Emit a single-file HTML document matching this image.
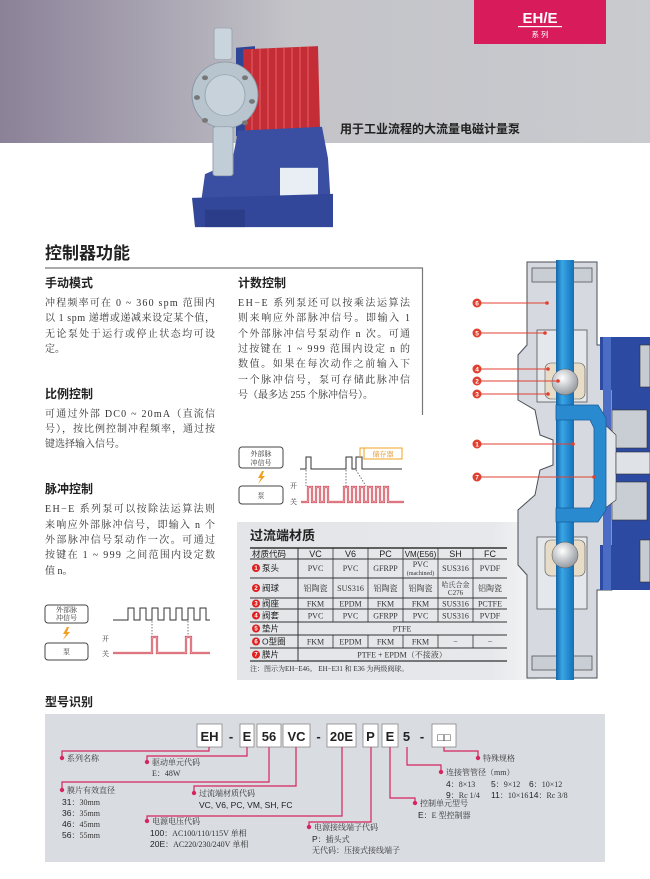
<!DOCTYPE html>
<html><head><meta charset="utf-8"><style>
html,body{margin:0;padding:0;background:#fff;}
svg{display:block;}
.h{font-family:"Liberation Sans","Noto Sans CJK SC",sans-serif;font-weight:bold;fill:#222;}
.b{font-family:"Liberation Serif","Noto Serif CJK SC",serif;fill:#333;font-size:10px;}
.t{font-family:"Liberation Serif","Noto Serif CJK SC",serif;fill:#333;font-size:8px;}
.ts{font-family:"Liberation Sans","Noto Sans CJK SC",sans-serif;fill:#222;font-size:8.5px;}
.m{font-family:"Liberation Serif","Noto Serif CJK SC",serif;fill:#333;font-size:8px;}
.mb{font-family:"Liberation Sans","Noto Sans CJK SC",sans-serif;fill:#222;font-size:8.5px;}
</style></head><body>
<svg width="650" height="879" viewBox="0 0 650 879" xmlns="http://www.w3.org/2000/svg">
<defs>
<linearGradient id="hdr" x1="0" x2="1" y1="0" y2="0">
<stop offset="0" stop-color="#8b8198"/><stop offset="0.45" stop-color="#c3c3c8"/><stop offset="1" stop-color="#c9cbcf"/>
</linearGradient>
<linearGradient id="pan" x1="0" x2="1"><stop offset="0" stop-color="#e3e5e9"/><stop offset="0.85" stop-color="#e6e8eb"/><stop offset="1" stop-color="#f4f5f6"/></linearGradient>
<linearGradient id="blu" x1="0" x2="1"><stop offset="0" stop-color="#1565a8"/><stop offset="0.35" stop-color="#39a6e6"/><stop offset="1" stop-color="#1470b8"/></linearGradient>
<radialGradient id="ball" cx="0.4" cy="0.35" r="0.7"><stop offset="0" stop-color="#ffffff"/><stop offset="1" stop-color="#8e949b"/></radialGradient>
</defs>

<!-- header -->
<rect x="0" y="0" width="650" height="143" fill="url(#hdr)"/>
<rect x="474" y="0" width="132" height="44" fill="#d81b5a"/>
<text x="540" y="23" text-anchor="middle" class="h" style="fill:#fff;font-size:15px">EH/E</text>
<rect x="518" y="26" width="44" height="1.2" fill="#fff"/>
<text x="540" y="37" text-anchor="middle" style="fill:#fff;font-size:7.5px;font-family:'Liberation Sans','Noto Sans CJK SC',sans-serif">系 列</text>
<text x="340" y="133" class="h" style="font-size:12px">用于工业流程的大流量电磁计量泵</text>

<!-- product pump -->
<g transform="translate(0,0.35) scale(1,0.79)">
<polygon points="236,60 255,58 255,170 236,172" fill="#2f4596"/>
<polygon points="243,62 318,58 320,162 245,166" fill="#c42c36"/>
<g stroke="#e86068" stroke-width="1">
<line x1="252" y1="62" x2="252" y2="164"/><line x1="260" y1="61" x2="260" y2="164"/><line x1="268" y1="61" x2="268" y2="164"/><line x1="276" y1="60" x2="276" y2="164"/><line x1="284" y1="60" x2="284" y2="163"/><line x1="292" y1="60" x2="292" y2="163"/><line x1="300" y1="59" x2="300" y2="163"/><line x1="308" y1="59" x2="308" y2="162"/></g>
<polygon points="238,165 322,160 328,200 331,262 200,265 205,220 232,205" fill="#3b4fa2"/>
<rect x="280" y="212" width="38" height="45" fill="#e9edf4"/>
<polygon points="192,250 333,245 333,287 195,287" fill="#33479a"/>
<rect x="205" y="265" width="40" height="22" fill="#2b3d88"/>
<rect x="214" y="35" width="18" height="40" rx="3" fill="#c9d4dc" stroke="#9aa6b0"/>
<ellipse cx="225" cy="120" rx="33" ry="42" fill="#b8c5cf" stroke="#8797a5"/>
<ellipse cx="225" cy="120" rx="20" ry="26" fill="#c7d2da" stroke="#9aa8b4"/>
<g fill="#777"><circle cx="205" cy="98" r="3"/><circle cx="245" cy="98" r="3"/><circle cx="197" cy="123" r="3"/><circle cx="252" cy="128" r="3"/><circle cx="205" cy="152" r="3"/><circle cx="245" cy="155" r="3"/></g>
<rect x="213" y="160" width="20" height="62" rx="3" fill="#c2ced7" stroke="#95a2ad"/>
</g>

<!-- section title -->
<text x="45" y="259" class="h" style="font-size:17px">控制器功能</text>
<line x1="45" y1="268" x2="423" y2="268" stroke="#777" stroke-width="1.2"/>
<line x1="422.5" y1="268" x2="422.5" y2="415" stroke="#777" stroke-width="1.2"/>

<text x="45" y="287" class="h" style="font-size:12px">手动模式</text>
<text x="45" y="306" class="b" textLength="170" lengthAdjust="spacing">冲程频率可在 0 ~ 360 spm 范围内</text>
<text x="45" y="321" class="b" textLength="170" lengthAdjust="spacing">以 1 spm 递增或递减来设定某个值，</text>
<text x="45" y="337" class="b" textLength="170" lengthAdjust="spacing">无论泵处于运行或停止状态均可设</text>
<text x="45" y="352" class="b">定。</text>

<text x="45" y="398" class="h" style="font-size:12px">比例控制</text>
<text x="45" y="417" class="b" textLength="170" lengthAdjust="spacing">可通过外部 DC0 ~ 20mA（直流信</text>
<text x="45" y="432" class="b" textLength="170" lengthAdjust="spacing">号），按比例控制冲程频率，通过按</text>
<text x="45" y="447" class="b">键选择输入信号。</text>

<text x="45" y="493" class="h" style="font-size:12px">脉冲控制</text>
<text x="45" y="512" class="b" textLength="170" lengthAdjust="spacing">EH−E 系列泵可以按除法运算法则</text>
<text x="45" y="528" class="b" textLength="170" lengthAdjust="spacing">来响应外部脉冲信号，即输入 n 个</text>
<text x="45" y="543" class="b" textLength="170" lengthAdjust="spacing">外部脉冲信号泵动作一次。可通过</text>
<text x="45" y="558" class="b" textLength="170" lengthAdjust="spacing">按键在 1 ~ 999 之间范围内设定数</text>
<text x="45" y="574" class="b">值 n。</text>

<text x="238" y="287" class="h" style="font-size:12px">计数控制</text>
<text x="238" y="306" class="b" textLength="172" lengthAdjust="spacing">EH−E 系列泵还可以按乘法运算法</text>
<text x="238" y="321" class="b" textLength="172" lengthAdjust="spacing">则来响应外部脉冲信号。即输入 1</text>
<text x="238" y="337" class="b" textLength="172" lengthAdjust="spacing">个外部脉冲信号泵动作 n 次。可通</text>
<text x="238" y="352" class="b" textLength="172" lengthAdjust="spacing">过按键在 1 ~ 999 范围内设定 n 的</text>
<text x="238" y="367" class="b" textLength="172" lengthAdjust="spacing">数值。如果在每次动作之前输入下</text>
<text x="238" y="383" class="b" textLength="172" lengthAdjust="spacing">一个脉冲信号，泵可存储此脉冲信</text>
<text x="238" y="398" class="b">号（最多达 255 个脉冲信号）。</text>

<!-- counting diagram -->
<rect x="239" y="447" width="44" height="21" rx="3" fill="#fff" stroke="#444"/>
<text x="261" y="456" text-anchor="middle" class="t" style="font-size:7px">外部脉</text>
<text x="261" y="465" text-anchor="middle" class="t" style="font-size:7px">冲信号</text>
<polygon points="262,471 258,478 261,478 258,484 265,476 262,476 264,471" fill="#f0a020"/>
<rect x="239" y="486" width="44" height="18" rx="3" fill="#fff" stroke="#444"/>
<text x="261" y="498" text-anchor="middle" class="t" style="font-size:7px">泵</text>
<polyline points="300,469 306,469 306,457 311,457 311,469 346,469 346,457 352,457 352,469 356,469 356,457 362,457 362,469 402,469" fill="none" stroke="#333" stroke-width="1"/>
<polyline points="360,457 360,448 364,448" fill="none" stroke="#f0a020" stroke-width="1"/>
<rect x="364" y="448" width="38" height="11" fill="#fff" stroke="#f0a020"/>
<text x="383" y="456.5" text-anchor="middle" class="t" style="fill:#e09020;font-size:7px">储存器</text>
<g stroke="#777" stroke-dasharray="1.5,1.5"><line x1="306" y1="470" x2="306" y2="486"/><line x1="346" y1="470" x2="346" y2="486"/><line x1="356" y1="470" x2="366" y2="486"/></g>
<text x="290" y="488" class="t" style="font-size:7px">开</text>
<text x="290" y="504" class="t" style="font-size:7px">关</text>
<polyline points="301,502 308,502 308,487 312,487 312,502 316,502 316,487 320,487 320,502 324,502 324,487 328,487 328,502 344,502 344,487 348,487 348,502 352,502 352,487 356,487 356,502 360,502 360,487 364,487 364,502 368,502 368,487 372,487 372,502 376,502 376,487 380,487 380,502 384,502 384,487 388,487 388,502 404,502" fill="none" stroke="#d04050" stroke-width="2.2"/>
<polyline points="301,502 308,502 308,487 312,487 312,502 316,502 316,487 320,487 320,502 324,502 324,487 328,487 328,502 344,502 344,487 348,487 348,502 352,502 352,487 356,487 356,502 360,502 360,487 364,487 364,502 368,502 368,487 372,487 372,502 376,502 376,487 380,487 380,502 384,502 384,487 388,487 388,502 404,502" fill="none" stroke="#f4d0d4" stroke-width="0.8"/>

<!-- pulse diagram -->
<rect x="45" y="605" width="43" height="18" rx="3" fill="#fff" stroke="#444"/>
<text x="66.5" y="612" text-anchor="middle" class="t" style="font-size:7px">外部脉</text>
<text x="66.5" y="620" text-anchor="middle" class="t" style="font-size:7px">冲信号</text>
<polygon points="67,627 63,634 66,634 63,640 70,632 67,632 69,627" fill="#f0a020"/>
<rect x="45" y="643" width="43" height="17" rx="3" fill="#fff" stroke="#444"/>
<text x="66.5" y="654" text-anchor="middle" class="t" style="font-size:7px">泵</text>
<polyline points="113,620 128,620 128,608 134,608 134,620 140,620 140,608 146,608 146,620 152,620 152,608 158,608 158,620 164,620 164,608 170,608 170,620 176,620 176,608 182,608 182,620 188,620 188,608 194,608 194,620 200,620 200,608 206,608 206,620 210,620" fill="none" stroke="#333" stroke-width="1"/>
<g stroke="#777" stroke-dasharray="1.5,1.5"><line x1="152" y1="621" x2="152" y2="637"/><line x1="188" y1="621" x2="188" y2="637"/></g>
<text x="102" y="641" class="t" style="font-size:7px">开</text>
<text x="102" y="656" class="t" style="font-size:7px">关</text>
<polyline points="113,653 152,653 152,637 157,637 157,653 186,653 186,637 191,637 191,653 210,653" fill="none" stroke="#d04050" stroke-width="2.2"/>
<polyline points="113,653 152,653 152,637 157,637 157,653 186,653 186,637 191,637 191,653 210,653" fill="none" stroke="#f4d0d4" stroke-width="0.8"/>

<!-- materials panel -->
<rect x="237" y="522" width="300" height="158" fill="url(#pan)"/>
<text x="250" y="540" class="h" style="font-size:13px">过流端材质</text>
<g stroke="#333">
<line x1="250" y1="548" x2="507" y2="548" stroke-width="1.4"/>
<line x1="250" y1="559" x2="507" y2="559"/>
<line x1="250" y1="578" x2="507" y2="578"/>
<line x1="250" y1="598" x2="507" y2="598"/>
<line x1="250" y1="609" x2="507" y2="609"/>
<line x1="250" y1="622" x2="507" y2="622"/>
<line x1="250" y1="635" x2="507" y2="635"/>
<line x1="250" y1="648" x2="507" y2="648"/>
<line x1="250" y1="661" x2="507" y2="661" stroke-width="1.2"/>
<line x1="298" y1="548" x2="298" y2="661"/>
<g stroke-width="0.8">
<line x1="333" y1="548" x2="333" y2="622"/><line x1="368" y1="548" x2="368" y2="622"/><line x1="403" y1="548" x2="403" y2="622"/><line x1="438" y1="548" x2="438" y2="622"/><line x1="473" y1="548" x2="473" y2="622"/>
<line x1="333" y1="635" x2="333" y2="648"/><line x1="368" y1="635" x2="368" y2="648"/><line x1="403" y1="635" x2="403" y2="648"/><line x1="438" y1="635" x2="438" y2="648"/><line x1="473" y1="635" x2="473" y2="648"/>
</g></g>
<text x="252" y="557" class="ts">材质代码</text>
<g class="ts" text-anchor="middle" style="font-size:9px">
<text x="315.5" y="557">VC</text><text x="350.5" y="557">V6</text><text x="385.5" y="557">PC</text><text x="420.5" y="557" style="font-size:8px">VM(E56)</text><text x="455.5" y="557">SH</text><text x="490" y="557">FC</text></g>
<g fill="#e02020">
<circle cx="256" cy="568" r="4"/><circle cx="256" cy="588" r="4"/><circle cx="256" cy="603.5" r="4"/><circle cx="256" cy="615.5" r="4"/><circle cx="256" cy="628.5" r="4"/><circle cx="256" cy="641.5" r="4"/><circle cx="256" cy="654.5" r="4"/></g>
<g fill="#fff" font-size="6" font-weight="bold" font-family="Liberation Sans" text-anchor="middle">
<text x="256" y="570">1</text><text x="256" y="590">2</text><text x="256" y="605.5">3</text><text x="256" y="617.5">4</text><text x="256" y="630.5">5</text><text x="256" y="643.5">6</text><text x="256" y="656.5">7</text></g>
<g class="ts"><text x="262" y="571">泵头</text><text x="262" y="591">阀球</text><text x="262" y="606.5">阀座</text><text x="262" y="618.5">阀套</text><text x="262" y="631.5">垫片</text><text x="262" y="644.5">O型圈</text><text x="262" y="657.5">膜片</text></g>
<g class="t" text-anchor="middle">
<text x="315.5" y="571">PVC</text><text x="350.5" y="571">PVC</text><text x="385.5" y="571">GFRPP</text><text x="420.5" y="567">PVC</text><text x="420.5" y="575" style="font-size:6px">(machined)</text><text x="455.5" y="571">SUS316</text><text x="490" y="571">PVDF</text>
<text x="315.5" y="591">铝陶瓷</text><text x="350.5" y="591">SUS316</text><text x="385.5" y="591">铝陶瓷</text><text x="420.5" y="591">铝陶瓷</text><text x="455.5" y="587" style="font-size:7px">哈氏合金</text><text x="455.5" y="595" style="font-size:7px">C276</text><text x="490" y="591">铝陶瓷</text>
<text x="315.5" y="606.5">FKM</text><text x="350.5" y="606.5">EPDM</text><text x="385.5" y="606.5">FKM</text><text x="420.5" y="606.5">FKM</text><text x="455.5" y="606.5">SUS316</text><text x="490" y="606.5">PCTFE</text>
<text x="315.5" y="618.5">PVC</text><text x="350.5" y="618.5">PVC</text><text x="385.5" y="618.5">GFRPP</text><text x="420.5" y="618.5">PVC</text><text x="455.5" y="618.5">SUS316</text><text x="490" y="618.5">PVDF</text>
<text x="402" y="631.5">PTFE</text>
<text x="315.5" y="644.5">FKM</text><text x="350.5" y="644.5">EPDM</text><text x="385.5" y="644.5">FKM</text><text x="420.5" y="644.5">FKM</text><text x="455.5" y="644.5">−</text><text x="490" y="644.5">−</text>
<text x="402" y="657.5">PTFE + EPDM（不接液）</text></g>
<text x="250" y="671" class="t" style="font-size:7px">注：图示为EH−E46。 EH−E31 和 E36 为两级阀球。</text>

<!-- cross-section -->
<path d="M527,262 H597 V345 H612 V590 H597 V678 H527 V575 L518,565 V510 L535,495 L540,470 L553,465 V440 L540,435 L535,410 L518,400 V355 L527,345 Z" fill="#d6dae0" stroke="#4a4f56" stroke-width="1"/>
<rect x="532" y="268" width="60" height="14" fill="#c9ced5" stroke="#555" stroke-width="0.8"/>
<rect x="537" y="330" width="50" height="72" fill="#e4e7eb" stroke="#555" stroke-width="0.8"/>
<rect x="537" y="537" width="50" height="72" fill="#e4e7eb" stroke="#555" stroke-width="0.8"/>
<rect x="532" y="656" width="60" height="14" fill="#c9ced5" stroke="#555" stroke-width="0.8"/>
<rect x="545" y="363" width="40" height="36" rx="6" fill="#e6dcc8" stroke="#555" stroke-width="0.6"/>
<rect x="545" y="540" width="40" height="36" rx="6" fill="#e6dcc8" stroke="#555" stroke-width="0.6"/>
<path d="M600,337 H650 V590 H600 V545 H612 V390 H600 Z" fill="#2d4aa2"/>
<rect x="603" y="337" width="8" height="253" fill="#4a6cc4"/>
<rect x="640" y="345" width="10" height="42" fill="#c7ccd3" stroke="#333" stroke-width="0.6"/>
<rect x="640" y="540" width="10" height="42" fill="#c7ccd3" stroke="#333" stroke-width="0.6"/>
<rect x="612" y="410" width="35" height="38" fill="#c9ced5" stroke="#333" stroke-width="0.6"/>
<rect x="612" y="482" width="35" height="38" fill="#c9ced5" stroke="#333" stroke-width="0.6"/>
<path d="M600,420 L616,435 V500 L600,512 Z" fill="#e3e6ea" stroke="#333" stroke-width="0.6"/>
<rect x="616" y="452" width="34" height="22" fill="#dfe2e6" stroke="#333" stroke-width="0.6"/>
<rect x="556" y="260" width="18" height="420" fill="url(#blu)"/>
<path d="M556,405 L598,405 L606,418 L606,510 L598,522 L556,522 L556,508 L590,508 L594,500 L594,428 L590,420 L556,420 Z" fill="#2a8ad0" stroke="#155d9c" stroke-width="0.8"/>
<circle cx="565" cy="382" r="13" fill="url(#ball)" stroke="#555" stroke-width="0.5"/>
<circle cx="565" cy="555" r="13" fill="url(#ball)" stroke="#555" stroke-width="0.5"/>
<g stroke="#e04030" stroke-width="1">
<line x1="477" y1="303" x2="547" y2="303"/><line x1="477" y1="333" x2="545" y2="333"/><line x1="477" y1="369" x2="548" y2="369"/><line x1="477" y1="381" x2="558" y2="381"/><line x1="477" y1="394" x2="548" y2="394"/><line x1="477" y1="444" x2="573" y2="444"/><line x1="477" y1="477" x2="594" y2="477"/></g>
<g fill="#e04030">
<circle cx="477" cy="303" r="4.5"/><circle cx="477" cy="333" r="4.5"/><circle cx="477" cy="369" r="4.5"/><circle cx="477" cy="381" r="4.5"/><circle cx="477" cy="394" r="4.5"/><circle cx="477" cy="444" r="4.5"/><circle cx="477" cy="477" r="4.5"/>
<circle cx="547" cy="303" r="1.8"/><circle cx="545" cy="333" r="1.8"/><circle cx="548" cy="369" r="1.8"/><circle cx="558" cy="381" r="1.8"/><circle cx="548" cy="394" r="1.8"/><circle cx="573" cy="444" r="1.8"/><circle cx="594" cy="477" r="1.8"/></g>
<g fill="#fff" font-size="6.5" font-weight="bold" font-family="Liberation Sans" text-anchor="middle">
<text x="477" y="305.5">6</text><text x="477" y="335.5">5</text><text x="477" y="371.5">4</text><text x="477" y="383.5">2</text><text x="477" y="396.5">3</text><text x="477" y="446.5">1</text><text x="477" y="479.5">7</text></g>

<!-- model id -->
<text x="45" y="706" class="h" style="font-size:12px">型号识别</text>
<rect x="45" y="714" width="560" height="148" fill="#d9dce1"/>
<g fill="#fff" stroke="#888" stroke-width="0.8">
<rect x="197" y="724" width="25" height="23"/><rect x="240" y="724" width="14" height="23"/><rect x="257" y="724" width="24" height="23"/><rect x="283" y="724" width="27" height="23"/><rect x="327" y="724" width="29" height="23"/><rect x="363" y="724" width="15" height="23"/><rect x="382" y="724" width="16" height="23"/><rect x="432" y="724" width="24" height="23"/></g>
<g class="h" style="font-size:13px" text-anchor="middle">
<text x="209.5" y="741">EH</text><text x="231" y="741">-</text><text x="247" y="741">E</text><text x="269" y="741">56</text><text x="296.5" y="741">VC</text><text x="318.5" y="741">-</text><text x="341.5" y="741">20E</text><text x="370.5" y="741">P</text><text x="390" y="741">E</text><text x="406.5" y="741">5</text><text x="422" y="741">-</text><text x="444" y="741" style="font-size:11px">□□</text></g>
<g fill="none" stroke="#d6245e" stroke-width="1.2">
<polyline points="209,747 209,751 62,751 62,758"/>
<polyline points="247,747 247,756 147,756 147,762"/>
<polyline points="269,747 269,782 62,782 62,790"/>
<polyline points="296,747 296,786 194,786 194,793"/>
<polyline points="342,747 342,816 147,816 147,821"/>
<polyline points="371,747 371,822 309,822 309,827"/>
<polyline points="390,747 390,798 415,798 415,803"/>
<polyline points="407,747 407,765 441,765 441,772"/>
<polyline points="444,747 444,751 478,751 478,758"/></g>
<g fill="#d6245e"><circle cx="62" cy="758" r="2.2"/><circle cx="147" cy="762" r="2.2"/><circle cx="62" cy="790" r="2.2"/><circle cx="194" cy="793" r="2.2"/><circle cx="147" cy="821" r="2.2"/><circle cx="309" cy="827" r="2.2"/><circle cx="415" cy="803" r="2.2"/><circle cx="441" cy="772" r="2.2"/><circle cx="478" cy="758" r="2.2"/></g>
<g class="m">
<text x="67" y="761">系列名称</text>
<text x="152" y="765">驱动单元代码</text><text x="152" y="776">E：48W</text>
<text x="67" y="793">膜片有效直径</text>
<text x="62" y="805"><tspan class="mb">31</tspan>：30mm</text><text x="62" y="816"><tspan class="mb">36</tspan>：35mm</text><text x="62" y="827"><tspan class="mb">46</tspan>：45mm</text><text x="62" y="838"><tspan class="mb">56</tspan>：55mm</text>
<text x="199" y="796">过流端材质代码</text>
<text x="199" y="808" class="mb">VC, V6, PC, VM, SH, FC</text>
<text x="152" y="824">电源电压代码</text>
<text x="150" y="836"><tspan class="mb">100</tspan>：AC100/110/115V 单相</text>
<text x="150" y="847"><tspan class="mb">20E</tspan>：AC220/230/240V 单相</text>
<text x="314" y="830">电源接线端子代码</text>
<text x="312" y="842"><tspan class="mb">P</tspan>：插头式</text>
<text x="312" y="853">无代码：压接式接线端子</text>
<text x="420" y="806">控制单元型号</text>
<text x="418" y="818"><tspan class="mb">E</tspan>：E 型控制器</text>
<text x="446" y="775">连接管管径（mm）</text>
<text x="446" y="787"><tspan class="mb">4</tspan>：8×13</text><text x="491" y="787"><tspan class="mb">5</tspan>：9×12</text><text x="529" y="787"><tspan class="mb">6</tspan>：10×12</text>
<text x="446" y="798"><tspan class="mb">9</tspan>：Rc 1/4</text><text x="491" y="798"><tspan class="mb">11</tspan>：10×16</text><text x="529" y="798"><tspan class="mb">14</tspan>：Rc 3/8</text>
<text x="483" y="761">特殊规格</text>
</g>
</svg>
</body></html>
